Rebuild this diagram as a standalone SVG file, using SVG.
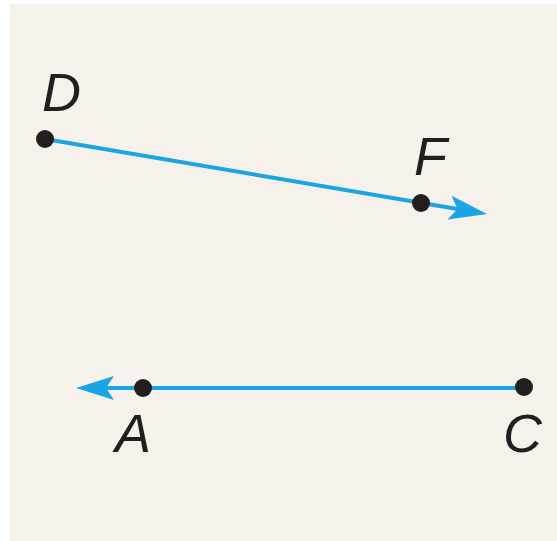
<svg xmlns="http://www.w3.org/2000/svg" width="557" height="541" viewBox="0 0 557 541">
<style>
.ray{stroke:#1ba5e4;stroke-width:4;fill:none}
.pt{fill:#231f20}
.lbl{font-family:"Liberation Sans",Arial,sans-serif;font-style:italic;font-size:54px;fill:#231f20}
</style>
<defs>
<marker id="arr" markerUnits="userSpaceOnUse" markerWidth="40" markerHeight="26" viewBox="0 0 40 26" refX="8" refY="13" orient="auto">
<path d="M38,13 L0,1 L8,13 L0,25 Z" fill="#1ba5e4"/>
</marker>
</defs>
<rect x="0" y="0" width="557" height="541" fill="#ffffff"/>
<rect x="10" y="4" width="547" height="537" fill="#f6f2eb"/>
<g id="connectors">
<line class="ray" x1="45" y1="139" x2="457.5" y2="209" marker-end="url(#arr)"/>
<line class="ray" x1="524" y1="388" x2="106" y2="388" marker-end="url(#arr)"/>
</g>
<g id="D"><circle class="pt" cx="45" cy="139" r="9"/><text class="lbl" x="42" y="111">D</text></g>
<g id="F"><circle class="pt" cx="421" cy="203" r="9"/><text class="lbl" x="414" y="175">F</text></g>
<g id="A"><circle class="pt" cx="143" cy="388" r="9"/><text class="lbl" x="115" y="452">A</text></g>
<g id="C"><circle class="pt" cx="524" cy="387" r="9"/><text class="lbl" x="503" y="452">C</text></g>
</svg>
